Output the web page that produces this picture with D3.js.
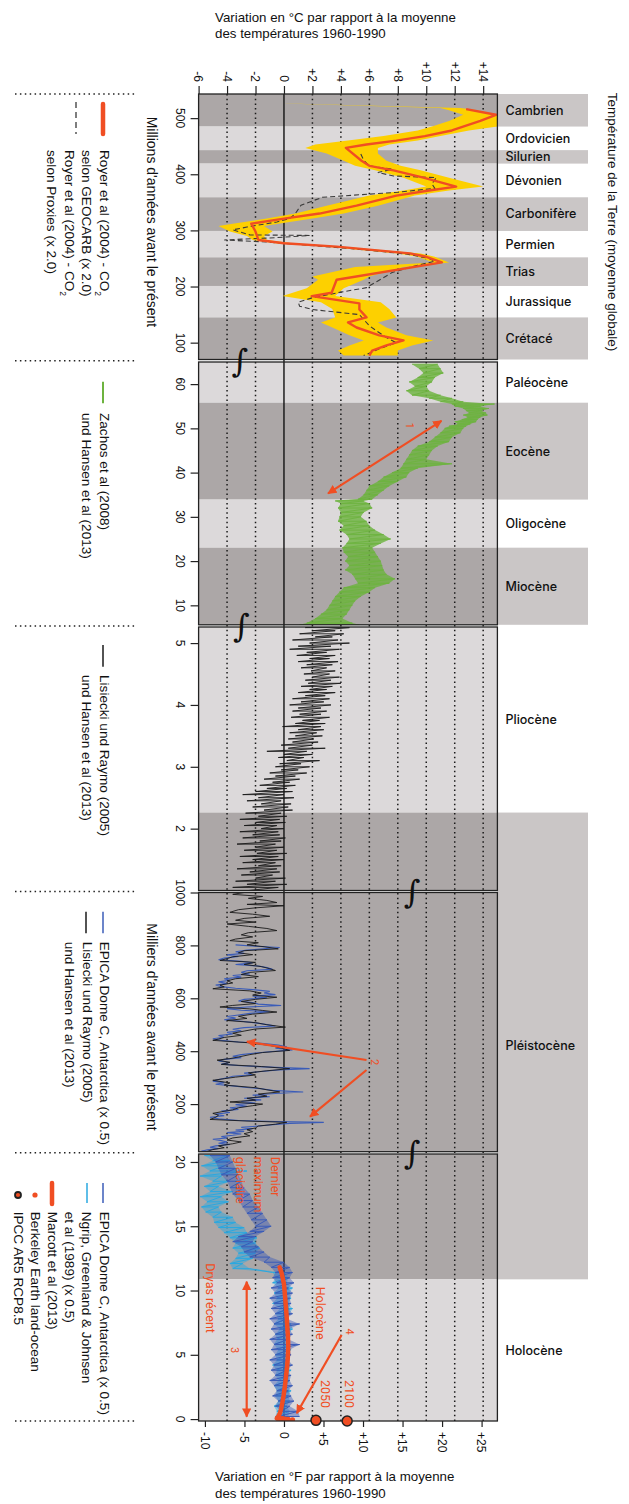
<!DOCTYPE html>
<html lang="fr">
<head>
<meta charset="utf-8">
<title>Température de la Terre</title>
<script src="https://cdn.jsdelivr.net/npm/d3@7"></script>
<style>
  body { margin: 0; background: #fff; }
  svg text { font-family: "Liberation Sans", Arial, sans-serif; fill: #111; }
  .title { font-family: Roboto, "Liberation Sans", sans-serif; font-size: 13.3px; font-weight: 500; }
  .period { font-family: Inter, Roboto, sans-serif; font-size: 12.5px; font-weight: 500; }
  .tick-label { font-size: 12px; }
  .legend { font-size: 13.6px; }
  .note { font-family: Roboto, sans-serif; font-size: 12.5px; }
</style>
</head>
<body>
<div id="chart"></div>
<script>
// Temperature axes (°C on top, °F at the bottom)
const tempTicksC = [-6, -4, -2, 0, 2, 4, 6, 8, 10, 12, 14];
const tempTicksF = [-10, -5, 0, 5, 10, 15, 20, 25];
const gridTemps = [-4, -2, 2, 4, 6, 8, 10, 12, 14];

// Time panels (Ma, Ma, Ma, ka, ka)
const panelDomains = [[543, 70], [65, 5.6], [5.26, 1], [1000, 20], [20.62, -0.15]];
const panelTicks = [[500, 400, 300, 200, 100], [60, 50, 40, 30, 20, 10], [5, 4, 3, 2], [1000, 800, 600, 400, 200], [20, 15, 10, 5, 0]];

// Periods: spans are [panel, from, to]
const periodNames = ['Cambrien', 'Ordovicien', 'Silurien', 'Dévonien', 'Carbonifère', 'Permien', 'Trias', 'Jurassique', 'Crétacé',
    'Paléocène', 'Eocène', 'Oligocène', 'Miocène', 'Pliocène', 'Pléistocène', 'Holocène'];
const periodSpans = [
    [[0, 543, 485]], [[0, 485, 443]], [[0, 443, 419]], [[0, 419, 359]], [[0, 359, 299]], [[0, 299, 252]], [[0, 252, 201]], [[0, 201, 145]], [[0, 145, 70]],
    [[1, 65, 55.8]], [[1, 55.8, 33.9]], [[1, 33.9, 23.03]], [[1, 23.03, 5.6]],
    [[2, 5.26, 2.26]], [[2, 2.26, 1], [3, 1000, 20], [4, 20.62, 10.87]], [[4, 10.87, -0.15]]
];
const periodDark = [1, 0, 1, 0, 1, 0, 1, 0, 1, 0, 1, 0, 1, 0, 1, 0];

// Royer et al (2004) GEOCARB (Ma, °C)
const royerGeocarb = [[516, 12.8], [506, 14.9], [495, 13.8], [478, 11.8], [468, 9.9], [460, 7.9], [453, 5.8], [447, 4.35],
    [424, 5.45], [415, 6.0], [407, 7.7], [394, 9.8], [378, 12.1], [371, 10.2], [362, 7.9], [344, 5.1], [330, 2.5], [321, 0.0],
    [312, -2.3], [298, -2.0], [283, -1.8], [277, 0.0], [271, 3.7], [259, 8.85], [253, 10.0], [243, 11.1], [212, 3.7], [189, 3.35],
    [183, 1.95], [170, 5.3], [159, 5.3], [145, 5.8], [136, 4.5], [127, 5.1], [113, 6.7], [104, 8.4], [95, 7.2], [86, 6.2], [77, 6.0]];
// GEOCARB uncertainty band (Ma, low °C, high °C)
const royerBand = [[526, 0.0, 0.25], [518, 11.0, 12.4], [514, 11.6, 13.6], [506, 12.6, 15.0], [495, 11.6, 15.0], [485, 10.4, 15.0],
    [478, 9.4, 13.0], [468, 7.0, 11.0], [460, 4.5, 9.4], [453, 2.2, 7.4], [447, 1.5, 6.6], [437, 3.0, 6.6], [424, 4.2, 7.2],
    [415, 5.0, 8.2], [407, 6.4, 9.6], [394, 8.4, 11.6], [378, 10.0, 14.0], [371, 8.4, 11.6], [362, 6.0, 9.2], [344, 3.0, 6.6],
    [330, 0.8, 4.2], [321, -1.2, 2.0], [312, -3.6, -0.4], [308, -4.6, -1.4], [298, -3.8, -0.8], [290, -2.6, -1.4], [283, -2.2, -1.2],
    [277, -0.6, 0.6], [271, 3.0, 4.2], [259, 8.0, 9.6], [253, 9.4, 10.6], [243, 10.5, 11.6], [235, 5.0, 8.4], [218, 2.0, 6.0],
    [212, 2.4, 5.6], [197, 1.6, 4.2], [183, -0.1, 3.6], [172, 2.6, 6.8], [160, 3.4, 7.4], [145, 3.6, 7.9], [136, 2.6, 6.6],
    [127, 3.4, 7.2], [113, 4.6, 8.6], [104, 5.6, 10.5], [95, 4.6, 9.0], [86, 3.8, 8.0], [77, 4.2, 8.0]];
// Royer et al (2004) proxies (Ma, °C)
const royerProxies = [[436, 5.4], [425, 5.6], [415, 6.0], [409, 7.6], [403, 6.6], [397, 7.7], [394, 10.7], [383, 10.4], [375, 10.6],
    [368, 8.0], [359, 2.7], [345, 1.2], [330, 0.8], [321, 0.4], [315, -0.5], [306, -2.6], [301, -3.6], [292, -2.4], [291, 1.8],
    [287, -0.6], [283, -4.2], [279, -1.0], [275, 1.0], [268, 4.5], [258, 8.6], [250, 10.2], [245, 10.6], [238, 9.4], [225, 7.6],
    [210, 6.6], [198, 5.8], [190, 4.0], [180, 2.0], [172, 1.0], [165, 1.1], [159, 2.0], [150, 5.3], [130, 6.0], [109, 7.2],
    [100, 7.9], [89, 6.7], [77, 5.6]];

// Zachos et al (2008), noisy trace read as (Ma, low °C, high °C)
const zachos = [[64.5, 9.0, 10.8], [63.5, 9.5, 11.0], [62.5, 9.8, 11.2], [61.5, 9.4, 10.6], [60.5, 8.8, 10.4], [59.5, 9.2, 10.0],
    [58.5, 8.6, 10.2], [57.5, 9.0, 11.0], [56.8, 10.2, 11.8], [56.0, 11.0, 12.6], [55.5, 11.8, 14.8], [55.0, 12.0, 13.8],
    [54.5, 12.6, 14.4], [54.0, 12.8, 13.9], [53.5, 13.0, 14.2], [53.0, 12.6, 14.3], [52.5, 12.9, 13.8], [52.0, 12.5, 13.6],
    [51.5, 12.0, 13.5], [51.0, 12.2, 13.1], [50.5, 11.6, 12.8], [50.0, 11.3, 12.6], [49.0, 11.0, 12.4], [48.0, 10.6, 11.8],
    [47.0, 10.2, 11.6], [46.0, 9.4, 10.8], [45.0, 9.0, 10.4], [44.0, 8.8, 10.2], [43.0, 8.6, 10.0], [42.0, 8.4, 11.8],
    [41.0, 8.2, 9.4], [40.0, 7.6, 8.8], [39.0, 7.0, 8.6], [38.0, 6.6, 8.0], [37.0, 6.0, 7.4], [36.0, 5.8, 7.0], [35.0, 5.6, 6.6],
    [34.0, 5.2, 6.2], [33.6, 3.6, 5.6], [33.0, 4.0, 6.0], [32.0, 3.8, 6.2], [31.0, 4.0, 5.6], [30.0, 3.9, 5.4], [29.0, 3.8, 5.8],
    [28.0, 4.2, 6.0], [27.0, 3.9, 6.4], [26.0, 4.4, 7.0], [25.0, 4.6, 7.5], [24.0, 4.4, 6.8], [23.0, 4.1, 6.2], [22.0, 4.2, 6.4],
    [21.0, 4.5, 6.6], [20.0, 4.3, 6.8], [19.0, 4.6, 6.9], [18.0, 4.3, 7.0], [17.0, 4.8, 7.2], [16.0, 5.0, 7.8], [15.0, 5.2, 7.4],
    [14.0, 4.2, 6.4], [13.0, 3.9, 6.0], [12.0, 3.6, 5.4], [11.0, 3.4, 5.0], [10.0, 3.2, 4.8], [9.0, 3.0, 4.6], [8.0, 2.6, 4.4],
    [7.0, 2.2, 4.1], [6.0, 1.6, 4.8], [5.6, 1.1, 5.3]];

// Lisiecki & Raymo (2005), 5.3-1 Ma, noisy trace (Ma, low °C, high °C)
const lisieckiMa = [[5.30, 2.3, 3.7], [5.25, 1.5, 4.6], [5.20, 2.0, 3.6], [5.15, 1.1, 4.2], [5.10, 2.2, 3.4], [5.05, 0.6, 3.8],
    [5.00, 1.8, 4.6], [4.95, 1.0, 3.3], [4.90, 0.4, 3.9], [4.85, 1.6, 3.0], [4.80, 0.9, 3.6], [4.75, 1.8, 3.2], [4.70, 1.0, 3.8],
    [4.65, 1.6, 3.4], [4.60, 1.2, 3.0], [4.55, 1.9, 3.6], [4.50, 1.4, 3.2], [4.45, 2.0, 3.9], [4.40, 1.5, 3.3], [4.35, 1.7, 4.0],
    [4.30, 1.2, 3.4], [4.25, 1.8, 3.0], [4.20, 1.0, 3.6], [4.15, 1.5, 2.9], [4.10, 0.6, 3.2], [4.05, 1.2, 2.8], [4.00, 0.4, 3.3],
    [3.95, 1.0, 2.6], [3.90, 0.6, 3.0], [3.85, 1.1, 2.6], [3.80, 0.5, 3.2], [3.75, 1.3, 2.5], [3.70, 0.8, 2.9], [3.65, -0.1, 2.6],
    [3.60, 1.0, 2.8], [3.55, 0.4, 2.3], [3.50, 0.8, 2.7], [3.45, 0.3, 2.1], [3.40, 0.6, 2.4], [3.35, -0.2, 2.0], [3.30, 0.3, 2.9],
    [3.25, -1.2, 1.6], [3.20, 0.0, 2.0], [3.15, -0.4, 1.4], [3.10, 0.2, 2.5], [3.05, -0.3, 1.2], [3.00, -0.6, 1.8], [2.95, -0.2, 1.0],
    [2.90, -1.0, 1.6], [2.85, -0.6, 0.8], [2.80, -1.4, 1.1], [2.75, -0.8, 0.4], [2.70, -1.7, 0.8], [2.65, -1.2, 0.2], [2.60, -2.0, 0.6],
    [2.55, -2.9, 0.0], [2.50, -1.8, 0.7], [2.45, -2.6, -0.2], [2.40, -1.6, 0.5], [2.35, -2.2, 0.3], [2.30, -1.4, 0.6], [2.25, -2.7, -0.2],
    [2.20, -1.8, 0.2], [2.15, -3.1, -0.3], [2.10, -2.0, 0.1], [2.05, -2.8, -0.5], [2.00, -1.6, 0.0], [1.95, -3.1, -0.4], [1.90, -2.2, -0.3],
    [1.85, -2.9, 0.1], [1.80, -1.7, -0.2], [1.75, -3.3, -0.6], [1.70, -2.0, 0.0], [1.65, -2.8, -0.5], [1.60, -1.9, 0.2], [1.55, -3.1, -0.4],
    [1.50, -2.2, 0.0], [1.45, -2.9, -0.6], [1.40, -1.8, -0.2], [1.35, -3.3, -0.5], [1.30, -2.4, -0.3], [1.25, -3.0, -0.8], [1.20, -2.0, 0.1],
    [1.15, -3.4, -0.6], [1.10, -2.6, 0.2], [1.05, -3.6, -0.4], [1.00, -2.5, -0.2]];

// Lisiecki & Raymo (2005), 1000-20 ka (ka, °C)
const lisieckiKa = [[1000, -2.8], [993, -3.6], [985, -1.5], [978, -2.5], [970, -1.2], [962, -0.5], [955, -2.6], [950, 0.0], [942, -2.0],
    [935, -3.2], [925, -3.8], [918, -2.2], [910, -1.0], [902, -2.8], [895, -3.4], [888, -2.0], [881, -4.0], [872, -2.5], [864, -1.2],
    [856, -0.5], [848, -2.5], [840, -3.0], [832, -2.2], [824, -3.4], [818, -3.8], [810, -1.8], [802, -2.6], [795, -1.4], [787, -0.4],
    [780, -2.8], [772, -3.2], [765, -2.2], [757, -3.6], [750, -4.0], [743, -4.5], [736, -2.0], [728, -2.8], [720, -1.6], [712, -1.0],
    [705, -0.6], [698, -2.4], [690, -3.0], [682, -1.8], [674, -3.4], [666, -4.0], [658, -3.6], [650, -4.5], [643, -4.2], [636, -5.0],
    [628, -2.4], [620, -1.6], [612, -2.2], [604, -0.5], [596, -2.0], [588, -3.0], [580, -2.0], [573, -3.6], [567, -4.5], [560, -2.4],
    [554, -1.5], [548, -0.5], [540, -2.2], [532, -3.2], [524, -2.6], [516, -4.0], [508, -2.0], [500, -1.2], [491, 0.1], [484, -2.0],
    [476, -2.8], [468, -3.6], [460, -3.0], [452, -4.2], [446, -4.6], [441, -5.0], [432, -2.5], [422, -1.0], [412, -0.2], [403, 0.4],
    [395, -1.5], [387, -2.4], [378, -3.2], [372, -3.8], [366, -4.7], [358, -3.8], [350, -4.4], [342, -1.6], [334, 0.4], [326, -1.2],
    [318, -2.5], [310, -2.0], [302, -3.4], [296, -4.2], [290, -5.0], [280, -3.8], [272, -4.2], [262, -2.0], [254, -1.2], [246, -0.3],
    [238, -1.8], [230, -1.2], [222, -2.6], [215, -2.0], [208, -3.8], [200, -1.5], [194, -2.2], [186, -3.2], [178, -3.6], [171, -4.4],
    [165, -5.0], [158, -4.6], [150, -4.8], [142, -5.2], [136, -2.6], [131, 0.2], [124, -0.6], [117, -1.8], [110, -2.0], [103, -2.6],
    [96, -2.2], [88, -2.8], [80, -2.4], [72, -3.6], [64, -4.0], [57, -3.0], [50, -3.6], [42, -4.6], [35, -4.2], [28, -5.0], [21, -5.4]];

// EPICA Dome C (x 0.5), 800-20 ka (ka, °C)
const epicaKa = [[802, -3.4], [797, -2.0], [792, -0.3], [788, -1.2], [782, -2.6], [776, -3.4], [770, -2.8], [764, -4.0], [758, -3.2],
    [752, -4.2], [746, -4.6], [740, -3.0], [734, -2.2], [728, -3.4], [722, -1.8], [716, -1.2], [710, -0.8], [704, -2.6], [698, -3.0],
    [692, -2.4], [686, -3.6], [680, -3.0], [674, -4.2], [668, -3.8], [662, -4.6], [656, -4.0], [650, -4.8], [644, -4.4], [638, -3.4],
    [632, -2.0], [626, -1.0], [620, -1.4], [614, -0.6], [608, -2.2], [602, -1.2], [596, -2.8], [590, -3.2], [584, -2.2], [578, -1.8],
    [573, -0.2], [567, -2.6], [561, -4.0], [555, -3.0], [549, -1.0], [543, -2.4], [537, -3.2], [531, -4.0], [525, -3.4], [519, -4.2],
    [513, -3.0], [507, -2.0], [501, -1.2], [495, -0.6], [489, -2.8], [483, -3.6], [477, -3.0], [471, -4.0], [465, -3.6], [459, -4.6],
    [453, -4.2], [447, -5.0], [441, -4.4], [435, -3.2], [429, -1.4], [423, -0.4], [417, 0.2], [411, -0.6], [405, 0.6], [399, -0.8],
    [393, -2.0], [387, -3.0], [381, -3.6], [375, -3.0], [369, -4.2], [363, -4.6], [357, -3.8], [351, -4.4], [345, -3.0], [339, -0.6],
    [334, 1.8], [329, -0.4], [323, -1.6], [317, -2.8], [311, -2.2], [305, -3.6], [299, -4.0], [293, -4.6], [287, -5.0], [281, -4.2],
    [275, -4.8], [269, -3.6], [263, -2.6], [258, -1.6], [252, -0.8], [246, 1.35], [240, -0.6], [234, -2.2], [228, -1.0], [222, -2.8],
    [216, -1.6], [210, -3.0], [204, -2.0], [198, -3.4], [192, -2.6], [186, -3.8], [180, -3.2], [174, -4.4], [168, -3.8], [162, -4.8],
    [156, -4.2], [150, -5.2], [144, -4.6], [138, -3.2], [134, -0.6], [131, 2.8], [127, 0.4], [122, -0.8], [117, -1.8], [112, -3.0],
    [107, -2.2], [102, -3.4], [97, -2.8], [92, -4.0], [87, -3.0], [82, -3.6], [77, -4.4], [72, -4.0], [67, -5.0], [62, -4.4],
    [57, -4.0], [52, -4.6], [47, -3.8], [42, -4.8], [37, -5.2], [32, -4.6], [27, -5.4], [22, -5.8], [20, -5.2]];

// Last 20 ka: NGRIP (x 0.5) and EPICA (x 0.5), noisy traces (ka, low °C, high °C)
const ngrip = [[20.5, -5.6, -4.0], [20.1, -5.0, -3.8], [19.7, -5.8, -4.2], [19.3, -5.2, -2.6], [18.9, -5.9, -4.4], [18.5, -5.0, -3.8],
    [18.1, -5.6, -4.6], [17.7, -5.2, -3.6], [17.3, -5.9, -4.4], [16.9, -5.4, -3.9], [16.5, -5.8, -4.6], [16.1, -5.5, -4.4],
    [15.7, -5.0, -3.6], [15.3, -4.9, -3.4], [14.9, -4.6, -2.8], [14.5, -4.2, -2.6], [14.1, -3.8, -1.9], [13.7, -3.4, -2.0],
    [13.3, -3.6, -1.7], [12.9, -3.2, -2.0], [12.5, -3.4, -2.2], [12.1, -3.8, -2.9], [11.7, -3.6, -2.4], [11.4, -0.8, 0.1],
    [11.0, -0.6, 0.3], [10.6, -0.8, 0.2], [10.2, -0.4, 0.6], [9.8, -0.7, 0.4], [9.4, -0.5, 0.5], [9.0, -0.8, 0.3], [8.6, -0.3, 0.6],
    [8.2, -0.6, 0.4], [7.8, -0.4, 0.2], [7.4, -0.7, 0.5], [7.0, -0.3, 0.6], [6.6, -0.6, 0.3], [6.2, -0.5, 0.4], [5.8, -0.7, 0.2],
    [5.4, -0.4, 0.5], [5.0, -0.6, 0.3], [4.6, -0.5, 0.4], [4.2, -0.8, 0.2], [3.8, -0.5, 0.5], [3.4, -0.6, 0.3], [3.0, -0.4, 0.4],
    [2.6, -0.7, 0.2], [2.2, -0.5, 0.5], [1.8, -0.6, 0.3], [1.4, -0.4, 0.4], [1.0, -0.7, 0.2], [0.6, -0.5, 0.4], [0.2, -0.6, 0.3]];
const epicaHolo = [[20.5, -5.2, -3.8], [20.0, -4.8, -3.6], [19.5, -4.6, -3.4], [19.0, -4.4, -3.2], [18.5, -4.0, -3.0], [18.0, -3.8, -2.8],
    [17.5, -3.6, -2.4], [17.0, -3.2, -2.2], [16.5, -2.9, -1.8], [16.0, -2.6, -1.5], [15.5, -2.3, -1.2], [15.0, -2.0, -0.9],
    [14.6, -2.4, -1.4], [14.2, -3.2, -2.0], [13.8, -3.6, -2.2], [13.4, -3.0, -1.8], [13.0, -2.8, -1.4], [12.6, -2.4, -1.0],
    [12.2, -1.4, 0.0], [11.8, -0.9, 0.4], [11.4, -0.6, 0.6], [11.0, -0.8, 0.4], [10.6, -0.5, 0.7], [10.2, -0.9, 0.3], [9.8, -0.6, 0.6],
    [9.4, -1.0, 0.4], [9.0, -0.7, 0.5], [8.6, -0.9, 0.3], [8.2, -0.6, 0.6], [7.8, -1.0, 0.2], [7.4, -0.7, 1.1], [7.0, -0.9, 0.4],
    [6.6, -0.6, 0.6], [6.2, -1.0, 0.3], [5.8, -0.7, 1.1], [5.4, -0.9, 0.4], [5.0, -0.6, 0.5], [4.6, -1.0, 0.3], [4.2, -0.7, 0.6],
    [3.8, -0.9, 0.2], [3.4, -0.6, 0.5], [3.0, -1.0, 0.4], [2.6, -0.7, 0.6], [2.2, -0.5, 0.3], [1.8, -0.8, 0.5], [1.4, -0.4, 0.7],
    [1.0, -0.6, 0.4], [0.6, -0.2, 1.0], [0.2, -0.4, 1.1]];
// Marcott et al (2013) (ka, °C)
const marcott = [[11.8, -0.3], [11.3, -0.15], [10.5, 0.0], [9.5, 0.08], [8.7, 0.14], [7.8, 0.2], [7.2, 0.23], [6.4, 0.28], [5.6, 0.3],
    [4.8, 0.27], [4.1, 0.22], [3.3, 0.14], [2.5, 0.06], [1.8, -0.03], [1.24, -0.12], [0.8, -0.2], [0.47, -0.28], [0.2, -0.4], [0.05, -0.5]];
// Berkeley Earth land-ocean (ka, °C)
const berkeley = [[0.1, -0.45], [0.07, -0.35], [0.05, -0.3], [0.03, -0.1], [0.0, 0.1], [-0.03, 0.3], [-0.065, 0.6]];
// IPCC AR5 RCP8.5: 2050 and 2100 (ka, °C)
const ipcc = [[-0.1, 2.25], [-0.15, 4.44]];

// Annotation arrows (panel, [t, °C] from, [t, °C] to, double-headed)
const arrows = [
    [1, [35.3, 3.1], [51.7, 11.07], true],
    [3, [366.7, 5.8], [435.9, -2.6], false],
    [3, [328.9, 5.8], [152.3, 1.83], false],
    [4, [10.69, -2.62], [0.185, -2.62], true],
    [4, [6.54, 4.05], [0.45, 0.9], false]
];
// Annotation texts (panel, t, °C, text, anchor)
const notes = [
    [1, 50.6, 8.85, '1', 'middle'],
    [3, 358.4, 6.4, '2', 'middle'],
    [4, 5.37, -3.44, '3', 'middle'],
    [4, 6.80, 4.63, '4', 'middle'],
    [4, 20.41, -0.63, 'Dernier', 'start'],
    [4, 20.41, -1.8, 'maximum', 'start'],
    [4, 20.41, -3.09, 'glaciaire', 'start'],
    [4, 12.12, -5.2, 'Dryas récent', 'start'],
    [4, 10.30, 2.53, 'Holocène', 'start'],
    [4, 3.04, 2.88, '2050', 'start'],
    [4, 3.04, 4.63, '2100', 'start']
];

// Layout
const W = 629, H = 1504;
const plotLeft = 198.6, plotRight = 497.4, labelRight = 588;
const panelTops = [94, 362, 627, 892.5, 1154];
const panelBottoms = [359.5, 624.8, 890.5, 1151.7, 1421];
const breakTemps = [-3.1, -3.0, 9.0, 9.0];

const colors = {
    darkPlot: '#aca7a7', lightPlot: '#dcd9da', darkLabel: '#cac6c6',
    orange: '#f04e23', yellow: '#fdd000', green: '#6db33f', black: '#1a1a1a',
    blue: '#3b5cb8', lightBlue: '#2aa8e0', dash: '#3a3a3a'
};

const svg = d3.select('#chart').append('svg')
    .attr('width', W).attr('height', H);

const x = d3.scaleLinear().domain([-6, 15]).range([plotLeft, plotRight]);
const xF = d3.scaleLinear().domain([-6 * 1.8, 15 * 1.8]).range([plotLeft, plotRight]);
const ys = panelDomains.map((d, i) => d3.scaleLinear().domain(d).range([panelTops[i], panelBottoms[i]]));

const signed = d => d > 0 ? '+' + d : String(d);

// rotated text helper (reads top to bottom)
function vtext(parent, px, py, str, anchor) {
    return parent.append('text')
        .attr('transform', `translate(${px},${py}) rotate(90)`)
        .attr('text-anchor', anchor || 'start')
        .attr('dy', '0.35em')
        .text(str);
}

const defs = svg.append('defs');
defs.append('marker')
    .attr('id', 'head')
    .attr('viewBox', '0 0 10 10')
    .attr('refX', 9).attr('refY', 5)
    .attr('markerWidth', 4.2).attr('markerHeight', 4.2)
    .attr('orient', 'auto-start-reverse')
    .append('path').attr('d', 'M0,0L10,5L0,10z').attr('fill', colors.orange);

panelDomains.forEach((d, i) => {
    defs.append('clipPath').attr('id', 'clip' + i)
        .append('rect')
        .attr('x', plotLeft).attr('y', panelTops[i])
        .attr('width', plotRight - plotLeft).attr('height', panelBottoms[i] - panelTops[i]);
});

// Layers
const layers = {
    bands: svg.append('g'),
    grid: svg.append('g'),
    data: svg.append('g'),
    frame: svg.append('g'),
    notes: svg.append('g'),
    axes: svg.append('g'),
    legend: svg.append('g')
};

// Period bands + labels
periodNames.forEach((name, i) => {
    let yMin = Infinity, yMax = -Infinity;
    periodSpans[i].forEach(([p, from, to]) => {
        const y0 = ys[p](from), y1 = ys[p](to);
        layers.bands.append('rect')
            .attr('x', plotLeft).attr('y', y0)
            .attr('width', plotRight - plotLeft).attr('height', y1 - y0)
            .attr('fill', periodDark[i] ? colors.darkPlot : colors.lightPlot);
        yMin = Math.min(yMin, y0);
        yMax = Math.max(yMax, y1);
    });
    if (periodDark[i]) {
        layers.bands.append('rect')
            .attr('x', plotRight).attr('y', yMin)
            .attr('width', labelRight - plotRight).attr('height', yMax - yMin)
            .attr('fill', colors.darkLabel);
    }
    layers.bands.append('text')
        .attr('class', 'period')
        .attr('x', 505.5).attr('y', (yMin + yMax) / 2)
        .attr('dy', '0.35em')
        .text(name);
});

// Grid
layers.grid.selectAll('line.grid')
    .data(gridTemps)
    .join('line')
    .attr('x1', d => x(d)).attr('x2', d => x(d))
    .attr('y1', panelTops[0]).attr('y2', panelBottoms[4])
    .attr('stroke', '#1a1a1a').attr('stroke-width', 1.5)
    .attr('stroke-dasharray', '1.5,3.2');
layers.grid.append('line')
    .attr('x1', x(0)).attr('x2', x(0))
    .attr('y1', panelTops[0]).attr('y2', panelBottoms[4])
    .attr('stroke', '#111').attr('stroke-width', 1.4);

// Data helpers
const lineFor = yS => d3.line().x(d => x(d[1])).y(d => yS(d[0]));
function spikes(rows) {
    // each row drawn as a spike from its low to its high value
    return rows.flatMap(r => [[r[0], r[1]], [r[0], r[2]]]);
}
const areaFor = yS => d3.area().y(d => yS(d[0])).x0(d => x(d[1])).x1(d => x(d[2]));

// Panel 0: Royer
const g0 = layers.data.append('g').attr('clip-path', 'url(#clip0)');
g0.append('path').datum(royerBand).attr('d', areaFor(ys[0])).attr('fill', colors.yellow);
g0.append('path').datum(royerProxies).attr('d', lineFor(ys[0]))
    .attr('fill', 'none').attr('stroke', colors.dash).attr('stroke-width', 1.1).attr('stroke-dasharray', '5,3');
g0.append('path').datum(royerGeocarb).attr('d', lineFor(ys[0]))
    .attr('fill', 'none').attr('stroke', colors.orange).attr('stroke-width', 2.4).attr('stroke-linejoin', 'round');

// Panel 1: Zachos
const g1 = layers.data.append('g').attr('clip-path', 'url(#clip1)');
g1.append('path').datum(zachos).attr('d', areaFor(ys[1])).attr('fill', colors.green).attr('fill-opacity', 0.8);
g1.append('path').datum(spikes(zachos)).attr('d', lineFor(ys[1]))
    .attr('fill', 'none').attr('stroke', colors.green).attr('stroke-width', 0.9);

// Panel 2: Lisiecki (Ma)
const g2 = layers.data.append('g').attr('clip-path', 'url(#clip2)');
g2.append('path').datum(spikes(lisieckiMa)).attr('d', lineFor(ys[2]))
    .attr('fill', 'none').attr('stroke', colors.black).attr('stroke-width', 0.9);

// Panel 3: EPICA + Lisiecki (ka)
const g3 = layers.data.append('g').attr('clip-path', 'url(#clip3)');
g3.append('path').datum(epicaKa).attr('d', lineFor(ys[3]))
    .attr('fill', 'none').attr('stroke', colors.blue).attr('stroke-width', 1.1);
g3.append('path').datum(lisieckiKa).attr('d', lineFor(ys[3]))
    .attr('fill', 'none').attr('stroke', colors.black).attr('stroke-width', 0.9);

// Panel 4: last 20 ka
const g4 = layers.data.append('g').attr('clip-path', 'url(#clip4)');
g4.append('path').datum(ngrip).attr('d', areaFor(ys[4])).attr('fill', colors.lightBlue).attr('fill-opacity', 0.45);
g4.append('path').datum(spikes(ngrip)).attr('d', lineFor(ys[4]))
    .attr('fill', 'none').attr('stroke', colors.lightBlue).attr('stroke-width', 1);
g4.append('path').datum(epicaHolo).attr('d', areaFor(ys[4])).attr('fill', colors.blue).attr('fill-opacity', 0.45);
g4.append('path').datum(spikes(epicaHolo)).attr('d', lineFor(ys[4]))
    .attr('fill', 'none').attr('stroke', colors.blue).attr('stroke-width', 1);
g4.append('path').datum(marcott).attr('d', lineFor(ys[4]))
    .attr('fill', 'none').attr('stroke', colors.orange).attr('stroke-width', 4.5).attr('stroke-linecap', 'round');
g4.selectAll('circle.berkeley').data(berkeley).join('circle')
    .attr('cx', d => x(d[1])).attr('cy', d => ys[4](d[0])).attr('r', 2.6)
    .attr('fill', colors.orange);
layers.notes.selectAll('circle.ipcc').data(ipcc).join('circle')
    .attr('cx', d => x(d[1])).attr('cy', d => ys[4](d[0])).attr('r', 5)
    .attr('fill', colors.orange).attr('stroke', '#222').attr('stroke-width', 1.5);

// Panel frames and break marks
panelDomains.forEach((d, i) => {
    layers.frame.append('rect')
        .attr('x', plotLeft).attr('y', panelTops[i])
        .attr('width', plotRight - plotLeft).attr('height', panelBottoms[i] - panelTops[i])
        .attr('fill', 'none').attr('stroke', '#222').attr('stroke-width', 1.3);
});
breakTemps.forEach((t, i) => {
    layers.frame.append('text')
        .attr('x', x(t)).attr('y', (panelBottoms[i] + panelTops[i + 1]) / 2)
        .attr('text-anchor', 'middle').attr('dy', '0.35em')
        .style('font-family', '"DejaVu Serif", serif').style('font-size', '32px')
        .text('∫');
});

// Arrows and notes
arrows.forEach(([p, from, to, both]) => {
    layers.notes.append('line')
        .attr('x1', x(from[1])).attr('y1', ys[p](from[0]))
        .attr('x2', x(to[1])).attr('y2', ys[p](to[0]))
        .attr('stroke', colors.orange).attr('stroke-width', 2.2)
        .attr('marker-end', 'url(#head)')
        .attr('marker-start', both ? 'url(#head)' : null);
});
notes.forEach(([p, t, temp, str, anchor]) => {
    vtext(layers.notes, x(temp), ys[p](t), str, anchor)
        .attr('class', 'note').style('fill', colors.orange)
        .style('font-size', str.length === 1 ? '11px' : '12.5px');
});

// Top axis (°C)
const topAxis = layers.axes.append('g')
    .attr('transform', `translate(0,${panelTops[0]})`)
    .call(d3.axisTop(x).tickValues(tempTicksC).tickSize(8).tickSizeOuter(0).tickFormat(''));
topAxis.select('.domain').remove();
tempTicksC.forEach(d => {
    vtext(layers.axes, x(d), 82, signed(d), 'end').attr('class', 'tick-label');
});

// Bottom axis (°F)
const bottomAxis = layers.axes.append('g')
    .attr('transform', `translate(0,${panelBottoms[4]})`)
    .call(d3.axisBottom(xF).tickValues(tempTicksF).tickSize(6).tickSizeOuter(0).tickFormat(''));
bottomAxis.select('.domain').remove();
tempTicksF.forEach(d => {
    vtext(layers.axes, xF(d), 1432, signed(d), 'start').attr('class', 'tick-label');
});

// Time axes
ys.forEach((yS, i) => {
    const ax = layers.axes.append('g')
        .attr('transform', `translate(${plotLeft},0)`)
        .call(d3.axisLeft(yS).tickValues(panelTicks[i]).tickSize(8).tickSizeOuter(0).tickFormat(''));
    ax.select('.domain').remove();
    panelTicks[i].forEach(t => {
        vtext(layers.axes, 180, yS(t), String(t), 'middle').attr('class', 'tick-label');
    });
});
layers.axes.selectAll('.tick line').attr('stroke', '#222').attr('stroke-width', 1.2);

// Titles
const titles = layers.axes.append('g').attr('class', 'title');
titles.append('text').attr('x', 215).attr('y', 22).text('Variation en °C par rapport à la moyenne');
titles.append('text').attr('x', 215).attr('y', 38).text('des températures 1960-1990');
titles.append('text').attr('x', 215).attr('y', 1481).text('Variation en °F par rapport à la moyenne');
titles.append('text').attr('x', 215).attr('y', 1498).text('des températures 1960-1990');
vtext(layers.axes, 613, 222, 'Température de la Terre (moyenne globale)', 'middle').style('font-size', '13.5px');
vtext(layers.axes, 151.7, 116.7, "Millions d'années avant le présent", 'start').style('font-size', '14px');
vtext(layers.axes, 151.7, 923.3, "Milliers d'années avant le présent", 'start').style('font-size', '14px');

// Legend separators
layers.legend.selectAll('line.sep')
    .data([panelTops[0], (panelBottoms[0] + panelTops[1]) / 2, (panelBottoms[1] + panelTops[2]) / 2,
        (panelBottoms[2] + panelTops[3]) / 2, (panelBottoms[3] + panelTops[4]) / 2, panelBottoms[4]])
    .join('line')
    .attr('x1', 15).attr('x2', 137).attr('y1', d => d).attr('y2', d => d)
    .attr('stroke', '#222').attr('stroke-width', 1.5).attr('stroke-dasharray', '1.5,3.4');

// Legend entries
const leg = layers.legend.append('g').attr('class', 'legend');
function legLine(px, y0, y1, color, width, dash) {
    leg.append('line').attr('x1', px).attr('x2', px).attr('y1', y0).attr('y2', y1)
        .attr('stroke', color).attr('stroke-width', width)
        .attr('stroke-linecap', width > 3 ? 'round' : 'butt')
        .attr('stroke-dasharray', dash || null);
}
function legText(px, py, str, sub) {
    const t = vtext(leg, px, py, str, 'start');
    if (sub) t.append('tspan').attr('baseline-shift', 'sub').style('font-size', '8.5px').text(sub);
    return t;
}
legLine(103, 104, 134, colors.orange, 4.5);
legLine(76, 102, 134, colors.dash, 1.3, '6,4');
legText(105, 150, 'Royer et al (2004) - CO', '2');
legText(87, 150, 'selon GEOCARB (x 2.0)');
legText(70, 150, 'Royer et al (2004) - CO', '2');
legText(52, 150, 'selon Proxies (x 2.0)');

legLine(103, 381.7, 403.3, colors.green, 2);
legText(105, 413, 'Zachos et al (2008)');
legText(87, 413, 'und Hansen et al (2013)');

legLine(103, 645, 666.7, colors.black, 1.5);
legText(105, 675, 'Lisiecki und Raymo (2005)');
legText(87, 675, 'und Hansen et al (2013)');

legLine(103, 911.7, 933.3, colors.blue, 1.5);
legLine(86, 911.7, 933.3, colors.black, 1.5);
legText(105, 941.7, 'EPICA Dome C, Antarctica (x 0.5)');
legText(88, 941.7, 'Lisiecki und Raymo (2005)');
legText(70, 941.7, 'und Hansen et al (2013)');

legLine(103, 1183, 1203, colors.blue, 1.5);
legLine(87, 1183, 1203, colors.lightBlue, 1.5);
legLine(52, 1183, 1204, colors.orange, 4.5);
leg.append('circle').attr('cx', 35).attr('cy', 1195).attr('r', 2.6).attr('fill', colors.orange);
leg.append('circle').attr('cx', 18).attr('cy', 1195).attr('r', 3).attr('fill', colors.orange).attr('stroke', '#222').attr('stroke-width', 1.8);
legText(105, 1211.7, 'EPICA Dome C, Antarctica (x 0.5)');
legText(87, 1211.7, 'Ngrip, Greenland & Johnsen');
legText(70, 1211.7, 'et al (1989) (x 0.5)');
legText(53, 1211.7, 'Marcott et al (2013)');
legText(36, 1211.7, 'Berkeley Earth land-ocean');
legText(19, 1211.7, 'IPCC AR5 RCP8.5');
</script>
</body>
</html>
